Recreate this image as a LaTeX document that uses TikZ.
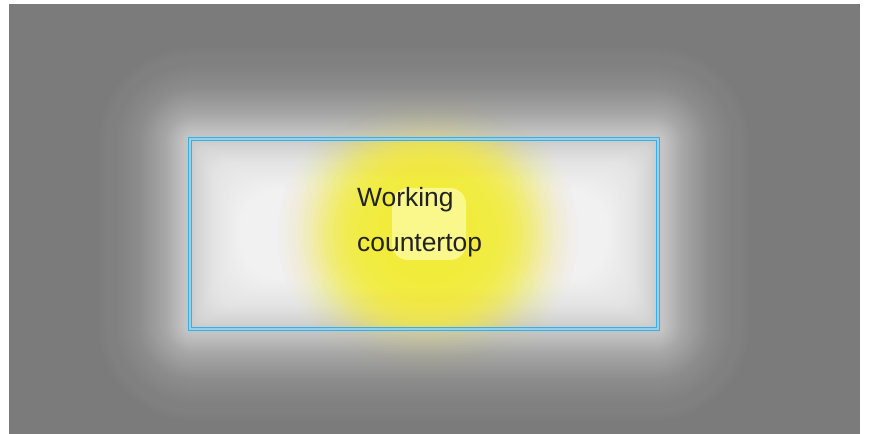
\documentclass[tikz,border=0pt]{standalone}
\usepackage{fontspec}
\setmainfont{Liberation Sans}
\usetikzlibrary{calc}

\definecolor{wallgray}{HTML}{7B7B7B}
\definecolor{frameblue}{HTML}{3DAEE4}
\definecolor{framelight}{HTML}{93D2EF}
\definecolor{lampyellow}{HTML}{F6EC3A}
\definecolor{lamppale}{HTML}{FCFA9A}
\definecolor{labeltext}{HTML}{222222}

\tikzset{
  counterframe/.style={draw=frameblue,double=framelight,double distance=1.1bp,line width=1.4bp,inner sep=0pt,minimum width=468bp,minimum height=190bp},
  countertext/.style={anchor=base west,inner sep=0pt,text=labeltext,font=\fontsize{26.5}{30}\selectfont}
}

\begin{document}
\begin{tikzpicture}[x=1bp,y=-1bp]
\path[use as bounding box] (0,0) rectangle (869,434);
\fill[wallgray] (9,4) rectangle (860,434);
\coordinate (topleft) at (190,139);
\coordinate (botright) at (658,329);
\coordinate (lamp) at (428,234);
\begin{scope}
\clip (9,4) rectangle (860,434);
% soft white glow round the countertop
\foreach \d [evaluate=\d as \op using {\d>0 ? 1-exp(-2*0.025*exp(-max(\d-10,0)/40)) : 1-exp(-2*0.034)},
             evaluate=\d as \rc using {\d>0 ? \d+4 : min(4+0.7*abs(\d),94-abs(\d))}] in {160,158,...,-84}
  \fill[white,opacity=\op,rounded corners=\rc bp] ($(topleft)+(-\d,-\d)$) rectangle ($(botright)+(\d,\d)$);
% yellow lamp light, faint outside the counter
\foreach \r [evaluate=\r as \op using {0.35*0.18*exp(-((\r-78)/45)^2)}] in {150,145,...,5}
  \fill[lampyellow,opacity=\op] (lamp) circle (\r);
\begin{scope}
\clip (topleft) rectangle (botright);
\foreach \r [evaluate=\r as \op using {0.18*exp(-((\r-78)/45)^2)}] in {150,145,...,5}
  \fill[lampyellow,opacity=\op] (lamp) circle (\r);
\end{scope}
\end{scope}
\fill[lamppale,opacity=.85,rounded corners=16bp] (392,188) rectangle (466,260);
\node[counterframe] (counter) at ($(topleft)!.5!(botright)$) {};
\node[countertext] (working) at (357,207) {Working};
\node[countertext] (countertop) at (357,252) {countertop};
\end{tikzpicture}
\end{document}
